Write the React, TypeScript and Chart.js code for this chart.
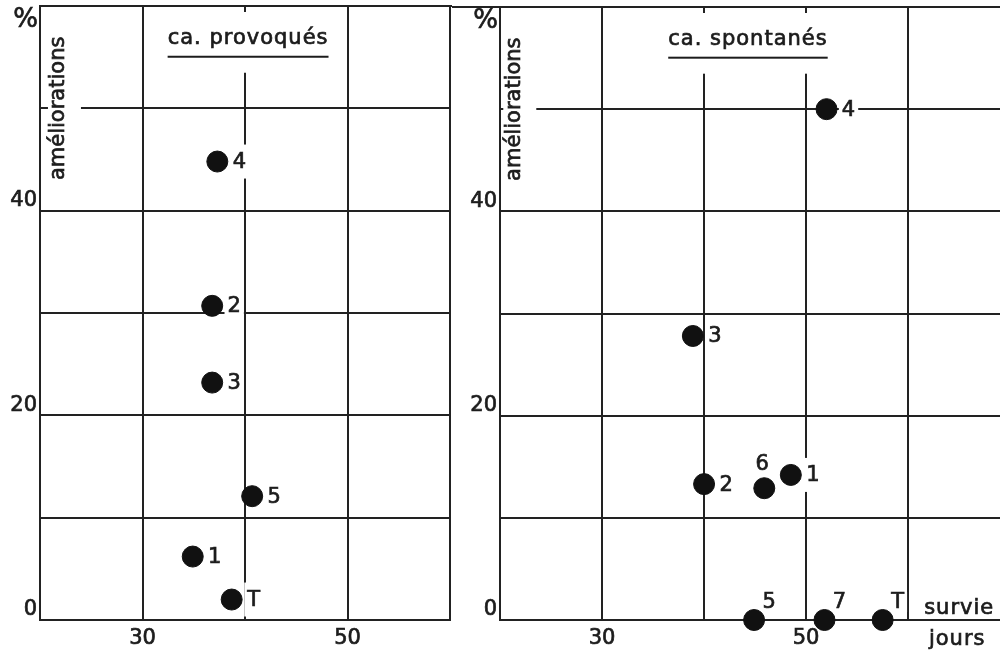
import React, { useEffect, useRef } from 'react';
import { Chart, registerables } from 'chart.js';

Chart.register(...registerables);

// ---------- data ----------
const X_MIN = 20;
const Y_MIN = 0;
const Y_MAX = 60;
const STEP = 10;

const yTickText: Record<number, string> = { 0: '0', 20: '20', 40: '40' };
const xTickText: Record<number, string> = { 30: '30', 50: '50' };
const yUnit = '%';
const yAxisTitle = 'améliorations';
const xUnitTop = 'survie';
const xUnitBottom = 'jours';

const provoquesTitle = 'ca. provoqués';
const provoquesNames = ['4', '2', '3', '5', '1', 'T'];
const provoquesSurvie = [37.3, 36.8, 36.8, 40.7, 34.9, 38.7];
const provoquesAmelioration = [44.8, 30.7, 23.2, 12.1, 6.2, 2.0];

const spontanesTitle = 'ca. spontanés';
const spontanesNames = ['4', '3', '2', '6', '1', '5', '7', 'T'];
const spontanesSurvie = [52.0, 38.9, 40.0, 45.9, 48.5, 44.9, 51.8, 57.5];
const spontanesAmelioration = [50.0, 27.8, 13.3, 12.9, 14.2, 0, 0, 0];

// ---------- style ----------
const LINE = '#222222';
const TEXT = '#1c1c1c';
const FONT = '"DejaVu Sans", sans-serif';

const provoquesPlacement = ['right', 'right', 'right', 'right', 'right', 'right'];
const spontanesPlacement = ['right', 'right', 'right', 'above', 'right', 'upright', 'upright', 'upright'];

const PLACE: Record<string, { dx: number; dy: number; padY: number }> = {
  right: { dx: 22, dy: 0, padY: 9 },
  above: { dx: -2, dy: -25, padY: 3 },
  upright: { dx: 15, dy: -18, padY: 2 },
};

function thickText(ctx: CanvasRenderingContext2D, s: string, x: number, y: number) {
  ctx.fillText(s, x, y);
  ctx.lineWidth = 0.7;
  ctx.strokeStyle = TEXT;
  ctx.strokeText(s, x, y);
}

const decorPlugin = {
  id: 'decor',
  beforeDatasetsDraw(chart: any, _args: any, o: any) {
    const { ctx, chartArea: ca } = chart;
    const xs = chart.scales.x;
    const ys = chart.scales.y;
    ctx.save();

    // top border continuing between the two panels
    ctx.strokeStyle = LINE;
    ctx.lineWidth = 2;
    ctx.beginPath();
    if (o.joinSide === 'right') {
      ctx.moveTo(ca.right, ca.top);
      ctx.lineTo(chart.width, ca.top);
    } else {
      ctx.moveTo(0, ca.top);
      ctx.lineTo(ca.left, ca.top);
    }
    ctx.stroke();

    // panel title, underlined
    ctx.font = `21px ${FONT}`;
    (ctx as any).letterSpacing = '1px';
    const tx = xs.getPixelForValue(o.titleX);
    const ty = ys.getPixelForValue(o.titleY);
    const tw = ctx.measureText(o.title).width;
    ctx.fillStyle = '#ffffff';
    ctx.fillRect(tx - tw / 2 - 10, ca.top + 6, tw + 20, ty + 34 - (ca.top + 6));
    ctx.fillStyle = TEXT;
    ctx.textAlign = 'center';
    ctx.textBaseline = 'middle';
    thickText(ctx, o.title, tx, ty);
    ctx.fillRect(tx - tw / 2, ty + 17, tw, 2);
    (ctx as any).letterSpacing = '0px';

    // rotated y-axis title inside the plot
    const ax = xs.getPixelForValue(o.axisTitleX);
    const ay = ys.getPixelForValue(o.axisTitleY);
    ctx.font = `21px ${FONT}`;
    const aw = ctx.measureText(yAxisTitle).width;
    ctx.fillStyle = '#ffffff';
    ctx.fillRect(ax - 11, ay - aw / 2 - 8, 33, aw + 16);
    ctx.save();
    ctx.translate(ax, ay);
    ctx.rotate(-Math.PI / 2);
    ctx.fillStyle = TEXT;
    ctx.textAlign = 'center';
    ctx.textBaseline = 'middle';
    thickText(ctx, yAxisTitle, 0, 0);
    ctx.restore();

    // % unit at the top of the y axis
    ctx.font = `26px ${FONT}`;
    ctx.fillStyle = TEXT;
    ctx.textAlign = 'right';
    ctx.textBaseline = 'middle';
    thickText(ctx, yUnit, ca.left - 2, ca.top + 14);

    // x unit (right panel only)
    if (o.showUnit) {
      ctx.font = `21px ${FONT}`;
      (ctx as any).letterSpacing = '1px';
      ctx.textAlign = 'center';
      const ux = xs.getPixelForValue(o.unitX);
      thickText(ctx, xUnitTop, ux, ys.getPixelForValue(o.unitY));
      thickText(ctx, xUnitBottom, ux - 2, ca.bottom + 20);
      (ctx as any).letterSpacing = '0px';
    }

    // point labels with white backing
    const meta = chart.getDatasetMeta(0);
    ctx.font = `21px ${FONT}`;
    ctx.textAlign = 'center';
    ctx.textBaseline = 'middle';
    meta.data.forEach((el: any, i: number) => {
      const p = PLACE[o.placement[i]] || PLACE.right;
      const lx = el.x + p.dx;
      const ly = el.y + p.dy;
      const w = ctx.measureText(o.names[i]).width;
      ctx.fillStyle = '#ffffff';
      ctx.fillRect(lx - w / 2 - 3, ly - 8 - p.padY, w + 6, 16 + 2 * p.padY);
      ctx.fillStyle = TEXT;
      thickText(ctx, o.names[i], lx, ly + 1);
    });

    ctx.restore();
  },
};

interface PanelSpec {
  names: string[];
  survie: number[];
  amel: number[];
  placement: string[];
  title: string;
  titleX: number;
  titleY: number;
  axisTitleX: number;
  axisTitleY: number;
  xMax: number;
  axisWidth: number;
  padTop: number;
  padRight: number;
  joinSide: string;
  showUnit: boolean;
  unitX?: number;
  unitY?: number;
}

function makeConfig(p: PanelSpec): any {
  return {
    type: 'scatter',
    data: {
      datasets: [
        {
          data: p.survie.map((s, i) => ({ x: s, y: p.amel[i] })),
          pointRadius: 10.5,
          pointBorderWidth: 1,
          pointBackgroundColor: '#111111',
          pointBorderColor: '#111111',
          clip: false,
        },
      ],
    },
    options: {
      responsive: false,
      animation: false,
      events: [],
      layout: { autoPadding: false, padding: { top: p.padTop, right: p.padRight, left: 0, bottom: 0 } },
      plugins: {
        legend: { display: false },
        tooltip: { enabled: false },
        decor: {
          names: p.names,
          placement: p.placement,
          title: p.title,
          titleX: p.titleX,
          titleY: p.titleY,
          axisTitleX: p.axisTitleX,
          axisTitleY: p.axisTitleY,
          joinSide: p.joinSide,
          showUnit: p.showUnit,
          unitX: p.unitX,
          unitY: p.unitY,
        },
      },
      scales: {
        x: {
          type: 'linear',
          min: X_MIN,
          max: p.xMax,
          afterBuildTicks: (s: any) => {
            s.ticks = s.ticks.filter((t: any) => Math.abs(t.value % STEP) < 1e-6);
          },
          afterFit: (s: any) => {
            s.height = 32;
            s.paddingLeft = 0;
            s.paddingRight = 0;
          },
          ticks: {
            stepSize: STEP,
            autoSkip: false,
            maxRotation: 0,
            padding: 6,
            color: TEXT,
            textStrokeColor: TEXT,
            textStrokeWidth: 0.7,
            font: { family: FONT, size: 21 },
            callback: (v: number) => xTickText[v] ?? '',
          },
          grid: { color: LINE, lineWidth: 2, drawTicks: false },
          border: { color: LINE, width: 2 },
        },
        y: {
          type: 'linear',
          min: Y_MIN,
          max: Y_MAX,
          afterFit: (s: any) => {
            s.width = p.axisWidth;
            s.paddingTop = 0;
            s.paddingBottom = 0;
          },
          ticks: {
            stepSize: STEP,
            autoSkip: false,
            padding: 3,
            labelOffset: -10,
            color: TEXT,
            textStrokeColor: TEXT,
            textStrokeWidth: 0.7,
            font: { family: FONT, size: 21 },
            callback: (v: number) => yTickText[v] ?? '',
          },
          grid: { color: LINE, lineWidth: 2, drawTicks: false },
          border: { color: LINE, width: 2 },
        },
      },
    },
    plugins: [decorPlugin],
  };
}

const leftPanel: PanelSpec = {
  names: provoquesNames,
  survie: provoquesSurvie,
  amel: provoquesAmelioration,
  placement: provoquesPlacement,
  title: provoquesTitle,
  titleX: 40.3,
  titleY: 56.8,
  axisTitleX: 21.85,
  axisTitleY: 50,
  xMax: 60,
  axisWidth: 40,
  padTop: 6,
  padRight: 2,
  joinSide: 'right',
  showUnit: false,
};

const rightPanel: PanelSpec = {
  names: spontanesNames,
  survie: spontanesSurvie,
  amel: spontanesAmelioration,
  placement: spontanesPlacement,
  title: spontanesTitle,
  titleX: 44.3,
  titleY: 56.8,
  axisTitleX: 21.4,
  axisTitleY: 50,
  xMax: 69,
  axisWidth: 48,
  padTop: 7,
  padRight: 0,
  joinSide: 'left',
  showUnit: true,
  unitX: 65,
  unitY: 1.1,
};

export default function App() {
  const leftRef = useRef<HTMLCanvasElement>(null);
  const rightRef = useRef<HTMLCanvasElement>(null);

  useEffect(() => {
    Chart.defaults.font.family = FONT;
    const a = new Chart(leftRef.current as HTMLCanvasElement, makeConfig(leftPanel));
    const b = new Chart(rightRef.current as HTMLCanvasElement, makeConfig(rightPanel));
    return () => {
      a.destroy();
      b.destroy();
    };
  }, []);

  return (
    <div
      style={{
        position: 'absolute',
        left: 0,
        top: 0,
        width: 1000,
        height: 652,
        background: '#ffffff',
        overflow: 'hidden',
      }}
    >
      <canvas
        ref={leftRef}
        width={452}
        height={652}
        style={{ position: 'absolute', left: 0, top: 0, width: 452, height: 652 }}
      />
      <canvas
        ref={rightRef}
        width={548}
        height={652}
        style={{ position: 'absolute', left: 452, top: 0, width: 548, height: 652 }}
      />
    </div>
  );
}
